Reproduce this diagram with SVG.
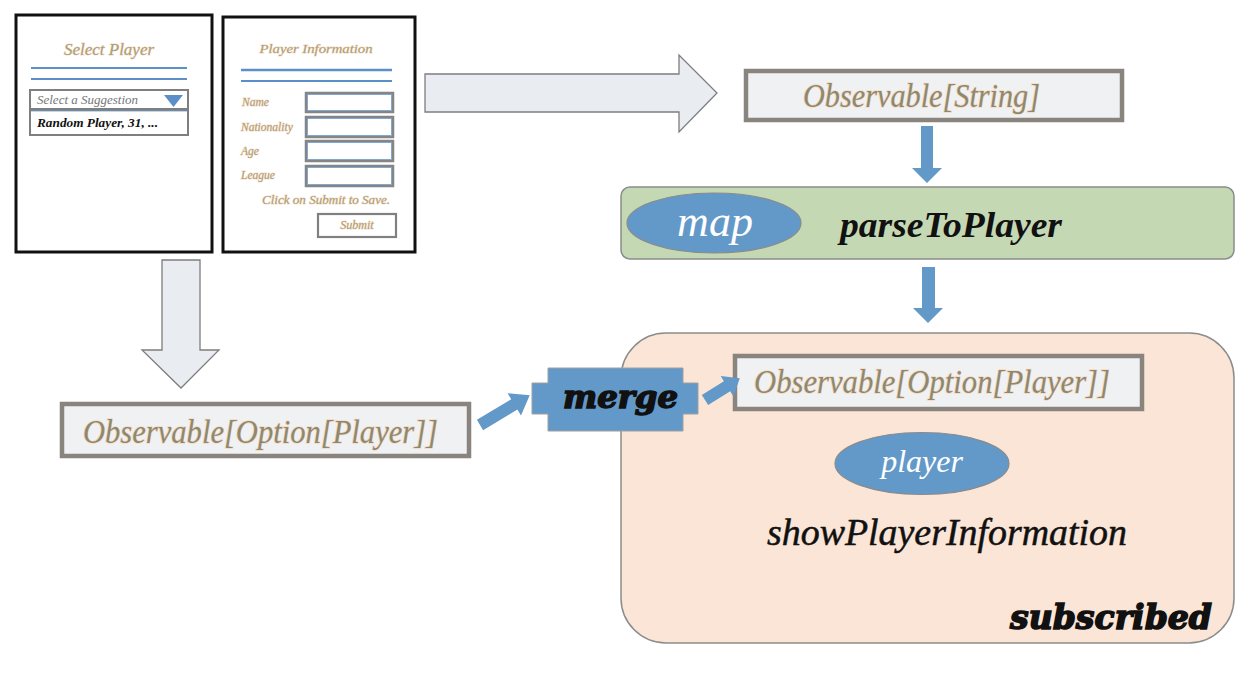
<svg xmlns="http://www.w3.org/2000/svg" width="1250" height="677" viewBox="0 0 1250 677">
<style>
.panel{fill:#ffffff;stroke:#111111;stroke-width:3}
.tan{font-family:"Liberation Serif",serif;font-style:italic;fill:#ab9f79;stroke:#f6dcc6;stroke-width:1;paint-order:stroke}
.bline{stroke:#5b8fc8;stroke-width:2}
.field{fill:#ffffff;stroke:#858585;stroke-width:2.5}
.fieldin{fill:none;stroke:#6a9bd0;stroke-width:0.8}
.obsbox{fill:#f0f1f3;stroke:#8a847e;stroke-width:4.5}
.obs{font-family:"Liberation Serif",serif;font-style:italic;font-size:34px;fill:#8d896f;stroke:#f5d9c4;stroke-width:1.6;paint-order:stroke}
.hollow{fill:#e9ecf0;stroke:#7d7d7d;stroke-width:1.3}
.blue{fill:#6399c9}
.ell{fill:#6399c9;stroke:#8a8a8a;stroke-width:1.2}
.wtxt{font-family:"Liberation Serif",serif;font-style:italic;fill:#ffffff}
.btxt{font-family:"Liberation Serif",serif;font-style:italic;fill:#111111}
.heavy{font-family:"DejaVu Serif",serif;font-style:italic;font-weight:bold;fill:#111111;stroke:#111111;stroke-width:1.6;paint-order:stroke}
</style>

<g id="select-player-panel">
  <rect class="panel" x="16" y="15" width="196" height="237"/>
  <text class="tan" x="109" y="55" font-size="17" text-anchor="middle">Select Player</text>
  <line class="bline" x1="31" y1="68" x2="187" y2="68"/>
  <line class="bline" x1="31" y1="79" x2="187" y2="79"/>
  <rect x="30" y="90" width="158" height="19" fill="#ffffff" stroke="#7f7f7f" stroke-width="2"/>
  <text x="37" y="104" font-family="Liberation Serif, serif" font-style="italic" font-size="12.5" fill="#767676" textLength="101" lengthAdjust="spacingAndGlyphs">Select a Suggestion</text>
  <polygon points="164,95 183,95 173.5,107" fill="#5b8fc8"/>
  <rect x="30" y="110" width="158" height="25" fill="#ffffff" stroke="#7f7f7f" stroke-width="2"/>
  <line x1="31" y1="111" x2="187" y2="111" stroke="#6a9bd0" stroke-width="0.8"/>
  <text x="37" y="127" font-family="Liberation Serif, serif" font-style="italic" font-weight="bold" font-size="12.5" fill="#111111" textLength="121" lengthAdjust="spacingAndGlyphs">Random Player, 31, ...</text>
</g>

<g id="player-information-panel">
  <rect class="panel" x="223" y="17" width="192" height="235"/>
  <text class="tan" x="316" y="53" font-size="13.5" text-anchor="middle" textLength="113" lengthAdjust="spacingAndGlyphs">Player Information</text>
  <line x1="241" y1="70" x2="392" y2="70" stroke="#5b8fc8" stroke-width="2.5"/>
  <line class="bline" x1="241" y1="81" x2="392" y2="81"/>
  <text class="tan" x="242" y="106" font-size="11.5">Name</text>
  <text class="tan" x="241" y="131" font-size="11.5">Nationality</text>
  <text class="tan" x="241" y="155" font-size="11.5">Age</text>
  <text class="tan" x="241" y="179" font-size="11.5">League</text>
  <rect class="field" x="306" y="93" width="87" height="19"/>
  <rect class="fieldin" x="307.5" y="94.5" width="84" height="16"/>
  <rect class="field" x="306" y="117" width="87" height="20"/>
  <rect class="fieldin" x="307.5" y="118.5" width="84" height="17"/>
  <rect class="field" x="306" y="141" width="87" height="20"/>
  <rect class="fieldin" x="307.5" y="142.5" width="84" height="17"/>
  <rect class="field" x="306" y="166" width="87" height="20"/>
  <rect class="fieldin" x="307.5" y="167.5" width="84" height="17"/>
  <text class="tan" x="262" y="204" font-size="12" textLength="128" lengthAdjust="spacingAndGlyphs">Click on Submit to Save.</text>
  <rect x="318" y="214" width="78" height="23" fill="#ffffff" stroke="#808080" stroke-width="2.2"/>
  <text class="tan" x="357" y="229" font-size="12" text-anchor="middle">Submit</text>
</g>

<g id="observable-string">
  <rect class="obsbox" x="746" y="71" width="376" height="49"/>
  <text class="obs" x="803" y="107" textLength="237" lengthAdjust="spacingAndGlyphs">Observable[String]</text>
</g>

<g id="map-parse">
  <rect x="621" y="187" width="613" height="72" rx="9" fill="#c5d8b4" stroke="#8c8c8c" stroke-width="1.5"/>
  <ellipse class="ell" cx="714" cy="223" rx="87" ry="30"/>
  <text class="wtxt" x="715" y="236" font-size="44" text-anchor="middle">map</text>
  <text class="btxt" x="840" y="237" font-size="35" font-weight="bold" textLength="222" lengthAdjust="spacingAndGlyphs">parseToPlayer</text>
</g>

<g id="subscribed">
  <rect x="621" y="333" width="613" height="310" rx="45" fill="#fbe5d6" stroke="#8c8c8c" stroke-width="1.5"/>
  <rect class="obsbox" x="735" y="356" width="407" height="53"/>
  <text class="obs" x="754" y="393" textLength="356" lengthAdjust="spacingAndGlyphs">Observable[Option[Player]]</text>
  <ellipse class="ell" cx="922" cy="463.5" rx="87" ry="31"/>
  <text class="wtxt" x="922" y="472" font-size="32" text-anchor="middle">player</text>
  <text class="btxt" x="767" y="545" font-size="38" stroke="#111111" stroke-width="0.5" textLength="360" lengthAdjust="spacingAndGlyphs">showPlayerInformation</text>
  <text class="heavy" x="1010" y="629" font-size="34" textLength="202" lengthAdjust="spacingAndGlyphs">subscribed</text>
</g>

<g id="observable-option-player">
  <rect class="obsbox" x="62" y="404" width="407" height="52"/>
  <text class="obs" x="83" y="443" textLength="355" lengthAdjust="spacingAndGlyphs">Observable[Option[Player]]</text>
</g>

<g id="merge">
  <polygon points="548,368 683,368 683,383 698,383 698,414 683,414 683,431 548,431 548,414 532,414 532,383 548,383" fill="#6399c9" stroke="#a0a0a0" stroke-width="1"/>
  <text class="heavy" x="563" y="408" font-size="32" textLength="115" lengthAdjust="spacingAndGlyphs">merge</text>
</g>

<g id="connectors">
  <polygon class="hollow" points="425,74 679,74 679,55 717,93 679,132 679,112 425,112"/>
  <polygon class="hollow" points="162,260 200,260 200,350 219,350 181,388 142,350 162,350"/>
  <polygon class="blue" points="921,126 933,126 933,168 942,168 927,183 912,168 921,168"/>
  <polygon class="blue" points="922,267 935,267 935,308 943,308 928,323 913,308 922,308"/>
  <polygon class="blue" transform="translate(480,425) rotate(-31)" points="0,-6 40,-6 40,-13 58,0 40,13 40,6 0,6"/>
  <polygon class="blue" transform="translate(705,400) rotate(-32)" points="0,-6 26,-6 26,-12 41,0 26,12 26,6 0,6"/>
</g>
</svg>
